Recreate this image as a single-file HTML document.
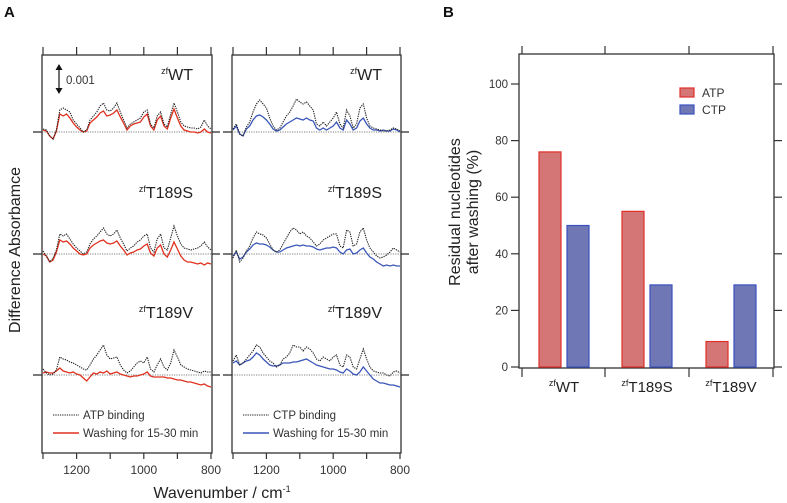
<!DOCTYPE html>
<html><head><meta charset="utf-8">
<style>
html,body{margin:0;padding:0;background:#fff;}
svg{display:block;font-family:"Liberation Sans",Arial,sans-serif;}
</style></head>
<body>
<svg id="fig" width="787" height="503" viewBox="0 0 787 503" xmlns="http://www.w3.org/2000/svg">
<text x="4" y="17" font-size="15" font-weight="bold" fill="#111">A</text>
<text x="443" y="17" font-size="15" font-weight="bold" fill="#111">B</text>
<g id="pa"></g>
<g id="pb"></g>
</svg>
<script>
// ---------- Panel A data (units: 1/28 of 0.001 absorbance) ----------
const wavenumbers = [];
for (let w = 1300; w >= 800; w -= 10) wavenumbers.push(w);
const xTicksA = [1300,1200,1100,1000,900,800];
const xTickLabelsA = [1200,1000,800];
const variants = ["WT","T189S","T189V"];
const atpBind = [
 [3,2,-4,-7,2,22,24,22,20,12,8,4,0,2,12,16,20,26,29,22,21,24,29,20,12,4,8,10,12,14,20,22,8,4,16,20,8,5,18,29,20,10,6,5,4,4,3,5,12,6,3],
 [3,-2,-8,-4,4,20,18,20,15,10,6,3,0,2,10,15,18,22,26,20,18,20,24,16,10,3,6,8,12,14,18,20,6,2,15,20,6,4,16,28,18,10,6,5,4,5,6,8,12,7,4],
 [6,2,0,1,5,18,16,15,13,12,10,8,6,5,10,16,20,25,30,20,16,17,18,10,5,2,4,8,12,14,12,18,6,3,10,16,8,5,12,25,18,10,8,6,5,4,3,2,4,3,3]
];
const atpWash = [
 [2,1,-4,-7,1,18,16,18,14,9,5,2,0,1,9,12,15,19,21,16,17,19,22,15,9,2,6,8,9,10,15,18,6,2,12,16,6,3,14,23,14,6,2,1,0,0,-1,0,3,0,-1],
 [0,-2,-8,-6,2,14,12,13,10,6,3,0,-1,0,6,9,11,13,14,11,10,11,13,8,4,-1,1,2,4,5,8,10,1,-2,6,9,0,-3,4,12,5,-2,-6,-8,-8,-9,-10,-9,-11,-9,-10],
 [2,3,2,2,4,7,4,3,2,3,1,0,-3,-6,-2,2,1,3,2,4,1,2,3,1,0,-1,-2,-1,-1,0,1,3,-1,-2,-2,-2,-2,-3,-3,-4,-5,-5,-6,-7,-7,-8,-9,-10,-9,-11,-12]
];
const ctpBind = [
 [3,8,-2,-4,5,10,20,28,32,28,24,14,6,2,4,10,16,20,26,33,30,28,30,26,22,8,6,10,6,10,14,20,8,4,22,16,4,8,24,28,14,6,4,3,2,1,1,2,4,3,1],
 [-4,4,-8,-4,3,8,16,22,20,19,16,10,4,2,4,10,16,22,26,24,20,22,18,16,12,8,10,14,16,18,20,20,8,6,24,22,8,10,22,26,14,6,2,-2,-4,-3,-1,2,6,4,2],
 [14,20,10,12,16,20,24,30,28,22,18,14,12,8,10,16,18,22,30,28,28,24,28,26,22,16,14,18,16,14,18,20,10,8,20,18,8,6,16,26,16,8,4,3,2,2,0,-1,3,4,2]
];
const ctpWash = [
 [2,6,-2,-4,3,6,12,16,17,15,12,8,3,1,2,5,8,10,12,14,13,12,14,12,11,4,2,4,2,4,6,10,4,2,12,8,2,4,11,14,8,4,2,2,1,2,1,1,3,2,0],
 [-2,2,-5,-3,2,5,9,11,10,10,9,7,4,2,2,4,6,7,8,9,8,9,8,8,7,5,4,5,6,6,7,6,2,0,4,5,0,1,4,6,1,-3,-5,-8,-10,-12,-11,-12,-11,-12,-12],
 [12,14,10,12,14,15,18,22,20,16,13,10,9,9,10,12,12,12,13,13,14,15,16,14,12,10,9,8,7,6,6,5,3,2,6,4,1,0,3,8,4,0,-4,-6,-8,-8,-9,-10,-10,-11,-12]
];
// ---------- Panel B data ----------
const categories = ["WT","T189S","T189V"];
const atpResidual = [76,55,9];
const ctpResidual = [50,29,29];
const yTicksB = [0,20,40,60,80,100];

const NS = "http://www.w3.org/2000/svg";
function mk(parent, tag, attrs, text){
  const e = document.createElementNS(NS, tag);
  for (const k in attrs) e.setAttribute(k, attrs[k]);
  if (text !== undefined) e.textContent = text;
  parent.appendChild(e);
  return e;
}
const pa = document.getElementById('pa');
const pb = document.getElementById('pb');
const baselines = [132,254,375];
const boxTop = 55, boxBot = 453;
const panels = [
  {x0:42, x1:212, bind:atpBind, wash:atpWash, color:"#e0301e", nm:"atp", legend:"ATP binding"},
  {x0:232, x1:401, bind:ctpBind, wash:ctpWash, color:"#3a56b8", nm:"ctp", legend:"CTP binding"}
];
panels.forEach((p, pi) => {
  const g = mk(pa, 'g', {});
  
  
  const xs = w => p.x0 + 1 + (1300 - w) / 500 * (p.x1 - p.x0 - 2);
  const fr = mk(g, 'rect', {x:p.x0, y:boxTop, width:p.x1-p.x0, height:boxBot-boxTop, fill:'none', stroke:'#333', 'stroke-width':1.3});
  
  
  xTicksA.forEach(w => {
    const x = xs(w);
    const t1 = mk(g, 'line', {x1:x, x2:x, y1:boxTop-8, y2:boxTop, stroke:'#333', 'stroke-width':1.2});
    
    
    const t2 = mk(g, 'line', {x1:x, x2:x, y1:boxBot, y2:boxBot+6, stroke:'#333', 'stroke-width':1.2});
    
    
  });
  xTickLabelsA.forEach(w => {
    const t = mk(g, 'text', {x:xs(w), y:474, 'font-size':12, 'text-anchor':'middle', fill:'#333'}, String(w));
    
    
  });
  baselines.forEach((b, vi) => {
    const s1 = mk(g, 'line', {x1:p.x0-9, x2:p.x0, y1:b, y2:b, stroke:'#333', 'stroke-width':1.3});
    
    
    const s2 = mk(g, 'line', {x1:p.x1, x2:p.x1+8, y1:b, y2:b, stroke:'#333', 'stroke-width':1.3});
    
    
    const zl = mk(g, 'line', {x1:p.x0, x2:p.x1, y1:b, y2:b, stroke:'#555', 'stroke-width':0.8, 'stroke-dasharray':'1.2,1.2'});
    
    
    const lab = mk(g, 'text', {x:p.x1-19, y:[80,198,318][vi], 'font-size':16, 'text-anchor':'end', fill:'#222'});
    
    
    mk(lab, 'tspan', {'font-size':9, dy:-6}, 'zf');
    mk(lab, 'tspan', {dy:6}, variants[vi]);
    const path = arr => arr.map((v,i)=>(i?'L':'M')+xs(wavenumbers[i]).toFixed(1)+','+(b - v).toFixed(1)).join(' ');
    const w1 = mk(g, 'path', {d:path(p.wash[vi]), fill:'none', stroke:p.color, 'stroke-width':1.3});
    
    
    const b1 = mk(g, 'path', {d:path(p.bind[vi]), fill:'none', stroke:'#222', 'stroke-width':1.1, 'stroke-dasharray':'1.3,1'});
    
    
  });
  // legend
  const lg = mk(g, 'g', {});
  
  
  mk(lg, 'line', {x1:p.x0+11, x2:p.x0+37, y1:415, y2:415, stroke:'#222', 'stroke-width':1.1, 'stroke-dasharray':'1.3,1'});
  mk(lg, 'text', {x:p.x0+41, y:419, 'font-size':11.5, fill:'#333'}, p.legend);
  mk(lg, 'line', {x1:p.x0+11, x2:p.x0+37, y1:433, y2:433, stroke:p.color, 'stroke-width':1.4});
  mk(lg, 'text', {x:p.x0+41, y:437, 'font-size':11.5, fill:'#333'}, 'Washing for 15-30 min');
});
// scale bar
const sb = mk(pa, 'g', {});


mk(sb, 'line', {x1:59, x2:59, y1:68, y2:90, stroke:'#111', 'stroke-width':1.2});
mk(sb, 'path', {d:'M55.5,70 L59,64 L62.5,70 Z M55.5,88 L59,94 L62.5,88 Z', fill:'#111'});
mk(sb, 'text', {x:66, y:84, 'font-size':11.5, fill:'#333'}, '0.001');
const yt = mk(pa, 'text', {x:0, y:0, 'font-size':16, 'text-anchor':'middle', fill:'#222', transform:'translate(20,250) rotate(-90)'}, 'Difference Absorbamce');


const xt = mk(pa, 'text', {x:0, y:0, 'font-size':16, 'text-anchor':'middle', fill:'#222', transform:'translate(222,498)'});


mk(xt, 'tspan', {}, 'Wavenumber / cm');
mk(xt, 'tspan', {'font-size':9, dy:-6}, '-1');

// ---------- Panel B ----------
const bx0 = 519, bx1 = 774, by0 = 54, by1 = 368;
const yB = v => 367 - v * 2.83;
const groupCenters = [564, 647, 731];
const fr = mk(pb, 'rect', {x:bx0, y:by0, width:bx1-bx0, height:by1-by0, fill:'none', stroke:'#333', 'stroke-width':1.3});


yTicksB.forEach(v => {
  const y = yB(v);
  const t = mk(pb, 'line', {x1:bx0-8, x2:bx0, y1:y, y2:y, stroke:'#333', 'stroke-width':1.2});
  
  
  const t2 = mk(pb, 'line', {x1:bx1, x2:bx1+8, y1:y, y2:y, stroke:'#333', 'stroke-width':1.2});
  
  
  const l = mk(pb, 'text', {x:bx0-11, y:y+4, 'font-size':11.5, 'text-anchor':'end', fill:'#333'}, String(v));
  
  
});
[522, 605, 689, 773].forEach(x => {
  const a = mk(pb, 'line', {x1:x, x2:x, y1:by0-8, y2:by0, stroke:'#333', 'stroke-width':1.2});
  
  
  const b = mk(pb, 'line', {x1:x, x2:x, y1:by1, y2:by1+9, stroke:'#333', 'stroke-width':1.2});
  
  
});
categories.forEach((c, i) => {
  const cx = groupCenters[i];
  const r1 = mk(pb, 'rect', {x:cx-25, y:yB(atpResidual[i]), width:22, height:yB(0)-yB(atpResidual[i]), fill:'#d47576', stroke:'#e0302a', 'stroke-width':1.2});
  
  
  const r2 = mk(pb, 'rect', {x:cx+3, y:yB(ctpResidual[i]), width:22, height:yB(0)-yB(ctpResidual[i]), fill:'#6f77b4', stroke:'#3a50c0', 'stroke-width':1.2});
  
  
  const t = mk(pb, 'text', {x:cx, y:392, 'font-size':15, 'text-anchor':'middle', fill:'#222'});
  
  
  mk(t, 'tspan', {'font-size':9, dy:-6}, 'zf');
  mk(t, 'tspan', {dy:6}, c);
});
const lgB = mk(pb, 'g', {});


mk(lgB, 'rect', {x:680, y:88, width:14, height:9, fill:'#d47576', stroke:'#e0302a', 'stroke-width':1.2});
mk(lgB, 'text', {x:702, y:97, 'font-size':12, fill:'#333'}, 'ATP');
mk(lgB, 'rect', {x:680, y:105, width:14, height:9, fill:'#6f77b4', stroke:'#3a50c0', 'stroke-width':1.2});
mk(lgB, 'text', {x:702, y:114, 'font-size':12, fill:'#333'}, 'CTP');
const ytB = mk(pb, 'text', {x:0, y:0, 'font-size':16, 'text-anchor':'middle', fill:'#222', transform:'translate(460,212) rotate(-90)'}, 'Residual nucleotides');


const ytB2 = mk(pb, 'text', {x:0, y:0, 'font-size':16, 'text-anchor':'middle', fill:'#222', transform:'translate(478,212) rotate(-90)'}, 'after washing (%)');


</script>
</body></html>
